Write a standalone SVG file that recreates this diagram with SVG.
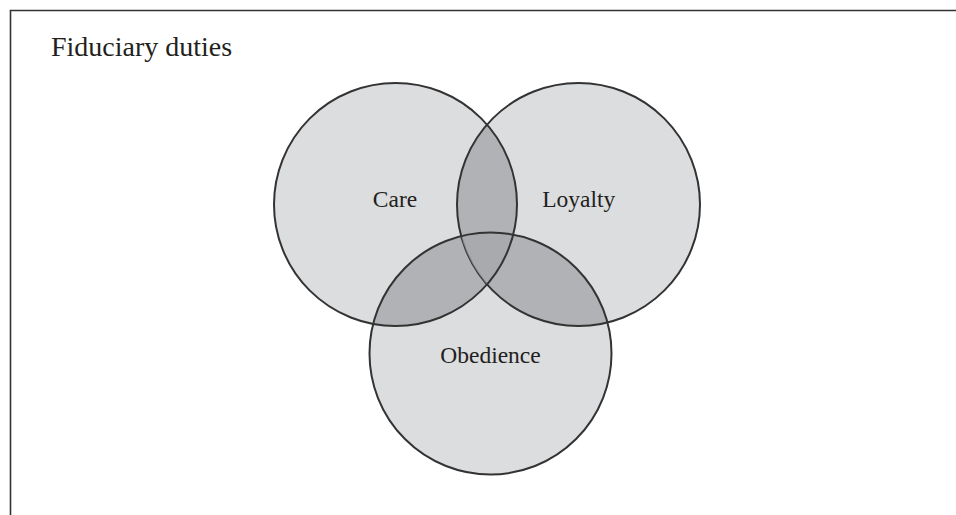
<svg xmlns="http://www.w3.org/2000/svg" width="956" height="515" viewBox="0 0 956 515">
  <style>
    .lbl { font-family: "Liberation Serif", "Times New Roman", serif; fill: #231f20; }
    .base { fill: #dcdddf; }
    .pair { fill: #b1b2b5; }
    .triple { fill: #a9aaad; }
    .edge { fill: none; stroke: #333333; stroke-width: 2; }
  </style>
  <defs>
    <circle id="cCare" cx="395.5" cy="204.5" r="121.5"/>
    <circle id="cLoyalty" cx="578.5" cy="204.5" r="121.5"/>
    <circle id="cObed" cx="490.5" cy="353.5" r="121"/>
    <clipPath id="clipCare"><use href="#cCare"/></clipPath>
    <clipPath id="clipLoyalty"><use href="#cLoyalty"/></clipPath>
    <clipPath id="clipObed"><use href="#cObed"/></clipPath>
    <clipPath id="clipCareObed" clip-path="url(#clipObed)"><use href="#cCare"/></clipPath>
  </defs>
  <rect width="956" height="515" fill="#ffffff"/>
  <path d="M10.5 515 V10.5 H956" fill="none" stroke="#333333" stroke-width="1.6"/>
  <text class="lbl" x="51" y="56" font-size="28">Fiduciary duties</text>

  <g id="fills">
    <use href="#cCare" class="base"/>
    <use href="#cLoyalty" class="base"/>
    <use href="#cObed" class="base"/>
    <use href="#cLoyalty" class="pair" clip-path="url(#clipCare)"/>
    <use href="#cObed" class="pair" clip-path="url(#clipCare)"/>
    <use href="#cObed" class="pair" clip-path="url(#clipLoyalty)"/>
    <use href="#cLoyalty" class="triple" clip-path="url(#clipCareObed)"/>
  </g>

  <g id="loyalty">
    <use href="#cLoyalty" class="edge"/>
    <text class="lbl" x="578.8" y="207" font-size="23.5" text-anchor="middle">Loyalty</text>
  </g>
  <use href="#cLoyalty" fill="#a9aaad" fill-opacity="0.65" clip-path="url(#clipCareObed)"/>
  <g id="care">
    <use href="#cCare" class="edge"/>
    <text class="lbl" x="395" y="207" font-size="23.5" text-anchor="middle">Care</text>
  </g>
  <g id="obedience">
    <use href="#cObed" class="edge"/>
    <text class="lbl" x="490.5" y="362.5" font-size="23.5" text-anchor="middle">Obedience</text>
  </g>
</svg>
